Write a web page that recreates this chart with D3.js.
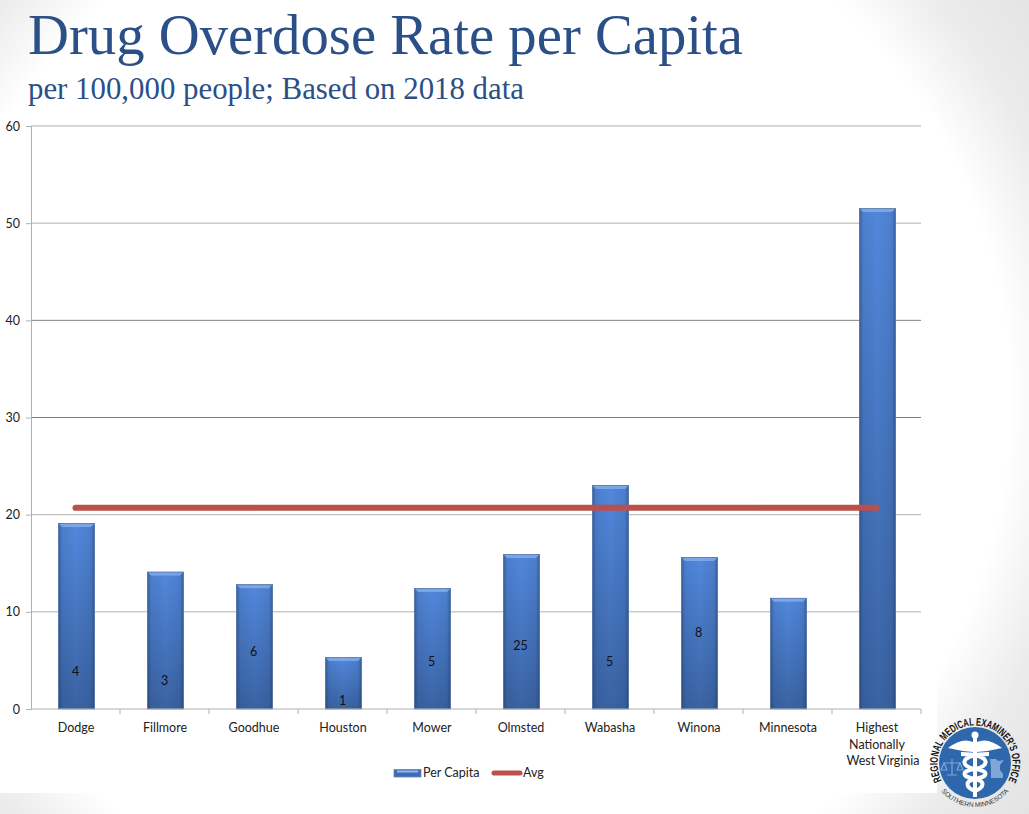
<!DOCTYPE html>
<html>
<head>
<meta charset="utf-8">
<script src="https://cdn.jsdelivr.net/npm/d3@7"></script>
<style>
  html, body { margin: 0; padding: 0; background: #fff; }
  svg { display: block; }
</style>
</head>
<body>
<div id="chart"></div>
<script>
const counties = ["Dodge", "Fillmore", "Goodhue", "Houston", "Mower", "Olmsted", "Wabasha", "Winona", "Minnesota", "Highest Nationally West Virginia"];
const perCapita = [19.1, 14.1, 12.8, 5.3, 12.4, 15.9, 23, 15.6, 11.4, 51.5];
const avg = [20.7, 20.7, 20.7, 20.7, 20.7, 20.7, 20.7, 20.7, 20.7, 20.7];
// overdose counts, printed at the height of their own value (Olmsted was moved by hand)
const counts = ["4", "3", "6", "1", "5", "25", "5", "8"];
const countHeights = [4, 3, 6, 1, 5, 6.6, 5, 8];
const yTicks = [0, 10, 20, 30, 40, 50, 60];

const width = 1029, height = 814;
const sans = "Lato, 'Open Sans', sans-serif";
const serif = "'Liberation Serif', serif";

const svg = d3.select("#chart").append("svg")
  .attr("width", width)
  .attr("height", height)
  .attr("viewBox", `0 0 ${width} ${height}`);

const defs = svg.append("defs");

const barFill = defs.append("linearGradient")
  .attr("id", "barFill")
  .attr("x1", 0).attr("y1", 0).attr("x2", 0).attr("y2", 1);
barFill.append("stop").attr("offset", "0%").attr("stop-color", "#5288dc");
barFill.append("stop").attr("offset", "100%").attr("stop-color", "#3a63a3");

const barEdge = defs.append("linearGradient")
  .attr("id", "barEdge")
  .attr("x1", 0).attr("y1", 0).attr("x2", 1).attr("y2", 0);
[[0, 0.42], [0.1, 0.1], [0.5, 0], [0.9, 0.1], [1, 0.42]].forEach(([o, a]) => {
  barEdge.append("stop").attr("offset", o).attr("stop-color", "#16294d").attr("stop-opacity", a);
});

const pageFill = defs.append("radialGradient")
  .attr("id", "pageFill")
  .attr("gradientUnits", "userSpaceOnUse")
  .attr("cx", 470).attr("cy", 400).attr("r", 700);
pageFill.append("stop").attr("offset", "77%").attr("stop-color", "#ffffff");
pageFill.append("stop").attr("offset", "88%").attr("stop-color", "#ebebeb");
pageFill.append("stop").attr("offset", "100%").attr("stop-color", "#e3e3e3");

// slide background and the white panel behind the chart
svg.append("rect").attr("width", width).attr("height", height).attr("fill", "url(#pageFill)");
svg.append("rect").attr("x", 0).attr("y", 112).attr("width", 937).attr("height", 681).attr("fill", "#fff");

svg.append("text")
  .attr("x", 28).attr("y", 54)
  .attr("font-family", serif).attr("font-size", 58)
  .attr("textLength", 715).attr("lengthAdjust", "spacingAndGlyphs")
  .attr("fill", "#2b4f87")
  .text("Drug Overdose Rate per Capita");

svg.append("text")
  .attr("x", 28).attr("y", 99)
  .attr("font-family", serif).attr("font-size", 31)
  .attr("textLength", 496).attr("lengthAdjust", "spacingAndGlyphs")
  .attr("fill", "#2b4f87")
  .text("per 100,000 people; Based on 2018 data");

const margin = { left: 31, right: 921, top: 126, bottom: 709 };

const x = d3.scaleBand().domain(counties).range([margin.left, margin.right]);
const y = d3.scaleLinear().domain([0, 60]).range([margin.bottom, margin.top]);
const barWidth = x.bandwidth() * 0.405;
const barLeft = (d) => x(d) + (x.bandwidth() - barWidth) / 2 + 1;

// gridlines, the 30 and 40 lines come out darker in the slide
svg.append("g").selectAll("line")
  .data(yTicks.filter((d) => d > 0))
  .enter().append("line")
  .attr("x1", margin.left).attr("x2", margin.right)
  .attr("y1", (d) => y(d)).attr("y2", (d) => y(d))
  .attr("stroke", (d) => (d === 30 || d === 40 ? "#808080" : "#b0b0b0"))
  .attr("stroke-width", 1);

// bars
const bars = svg.append("g").selectAll("g")
  .data(counties)
  .enter().append("g");
bars.append("rect")
  .attr("x", barLeft)
  .attr("y", (d, i) => y(perCapita[i]))
  .attr("width", barWidth)
  .attr("height", (d, i) => y(0) - y(perCapita[i]))
  .attr("fill", "url(#barFill)");
bars.append("rect")
  .attr("x", barLeft)
  .attr("y", (d, i) => y(perCapita[i]))
  .attr("width", barWidth)
  .attr("height", (d, i) => y(0) - y(perCapita[i]))
  .attr("fill", "url(#barEdge)")
  .attr("stroke", "#4a6c9f").attr("stroke-width", 0.7);
bars.append("path")
  .attr("d", (d, i) => {
    const left = barLeft(d), top = y(perCapita[i]) + 0.5;
    const p = d3.path();
    p.moveTo(left + 0.5, top);
    p.lineTo(left + barWidth - 0.5, top);
    p.lineTo(left + barWidth - 3.5, top + 3);
    p.lineTo(left + 3.5, top + 3);
    p.closePath();
    return p.toString();
  })
  .attr("fill", "#86aeea").attr("opacity", 0.8);

// axes
const axisLeft = d3.axisLeft(y).tickValues(yTicks).tickSize(5).tickPadding(6);
const yAxis = svg.append("g").attr("transform", `translate(${margin.left},0)`).call(axisLeft);
yAxis.select(".domain").attr("stroke", "#b0b0b0");
yAxis.selectAll(".tick line").attr("stroke", "#b0b0b0");
yAxis.selectAll("text").attr("font-family", sans).attr("font-size", 12.5).attr("fill", "#222");

svg.append("line")
  .attr("x1", margin.left).attr("x2", margin.right)
  .attr("y1", y(0)).attr("y2", y(0))
  .attr("stroke", "#b0b0b0");

// category ticks sit between the bands
svg.append("g").selectAll("line")
  .data(counties)
  .enter().append("line")
  .attr("x1", (d) => x(d) + x.step())
  .attr("x2", (d) => x(d) + x.step())
  .attr("y1", y(0)).attr("y2", y(0) + 5)
  .attr("stroke", "#b0b0b0");

const catLabels = svg.append("g").selectAll("text")
  .data(counties)
  .enter().append("text")
  .attr("font-family", sans).attr("font-size", 12.5)
  .attr("fill", "#222").attr("text-anchor", "middle");
catLabels.each(function (d) {
  const lines = d.startsWith("Highest") ? ["Highest", "Nationally", "West Virginia"] : [d];
  const cx = x(d) + x.bandwidth() / 2 + 0.5;
  d3.select(this).selectAll("tspan")
    .data(lines)
    .enter().append("tspan")
    .attr("x", (l) => cx + (l === "West Virginia" ? 6 : 0))
    .attr("y", (l, i) => 732 + i * 16.5)
    .text((l) => l);
});

// average line, centre of first band to centre of last
const avgLine = d3.line()
  .x((d, i) => x(counties[i]) + x.bandwidth() / 2)
  .y((d) => y(d));
svg.append("path")
  .datum(avg)
  .attr("d", avgLine)
  .attr("fill", "none")
  .attr("stroke", "#b9504c")
  .attr("stroke-width", 6)
  .attr("stroke-linecap", "round");

// counts inside the bars
svg.append("g").selectAll("text")
  .data(counts)
  .enter().append("text")
  .attr("x", (d, i) => x(counties[i]) + x.bandwidth() / 2)
  .attr("y", (d, i) => y(countHeights[i]) + 5.5)
  .attr("text-anchor", "middle")
  .attr("font-family", sans).attr("font-size", 12.5)
  .attr("fill", "#111")
  .text((d) => d);

// legend
const legend = svg.append("g");
legend.append("rect").attr("x", 394).attr("y", 769.5).attr("width", 27).attr("height", 7.5)
  .attr("fill", "#3f6bb0").attr("stroke", "#6d86ad").attr("stroke-width", 0.8);
legend.append("rect").attr("x", 397).attr("y", 770.5).attr("width", 21).attr("height", 2)
  .attr("fill", "#8db9f0");
legend.append("text").attr("x", 423).attr("y", 777)
  .attr("font-family", sans).attr("font-size", 12.5).attr("fill", "#222").text("Per Capita");
legend.append("line").attr("x1", 494).attr("x2", 520).attr("y1", 773).attr("y2", 773)
  .attr("stroke", "#b9504c").attr("stroke-width", 5).attr("stroke-linecap", "round");
legend.append("text").attr("x", 523).attr("y", 777)
  .attr("font-family", sans).attr("font-size", 12.5).attr("fill", "#222").text("Avg");

// seal, bottom right
const seal = svg.append("g").attr("transform", "translate(975,763)");
const ringPath = (r, a0, a1, sweep) => {
  const pt = (a) => `${r * Math.sin(a)} ${-r * Math.cos(a)}`;
  return `M ${pt(a0)} A ${r} ${r} 0 ${Math.abs(a1 - a0) > Math.PI ? 1 : 0} ${sweep} ${pt(a1)}`;
};
const deg = Math.PI / 180;
defs.append("path").attr("id", "sealTop").attr("d", ringPath(37.5, -118 * deg, 118 * deg, 1));
defs.append("path").attr("id", "sealBottom").attr("d", ringPath(44, -118 * deg, -242 * deg, 0));
seal.append("circle").attr("r", 36).attr("fill", "#2f67ad");
seal.append("text")
  .attr("font-family", "'Liberation Sans', sans-serif").attr("font-weight", 700)
  .attr("font-size", 11).attr("fill", "#111")
  .append("textPath").attr("href", "#sealTop")
  .attr("textLength", 154).attr("lengthAdjust", "spacingAndGlyphs")
  .text("REGIONAL MEDICAL EXAMINER'S OFFICE");
seal.append("text")
  .attr("font-family", "'Liberation Sans', sans-serif")
  .attr("font-size", 6.5).attr("fill", "#333")
  .append("textPath").attr("href", "#sealBottom").attr("startOffset", "50%").attr("text-anchor", "middle")
  .text("SOUTHERN MINNESOTA");
// wings
seal.append("path").attr("d", "M-27 -15 Q-13 -26 -2 -21 L-2 -11 Q-15 -12 -27 -15 Z M27 -15 Q13 -26 2 -21 L2 -11 Q15 -12 27 -15 Z").attr("fill", "#fff");
// staff and snakes
seal.append("line").attr("x1", 0).attr("x2", 0).attr("y1", -28).attr("y2", 34).attr("stroke", "#fff").attr("stroke-width", 4);
seal.append("circle").attr("cy", -28).attr("r", 3.5).attr("fill", "#fff");
seal.append("path").attr("d", "M14 -9 C-17 -9 -15 4 0 6 C15 8 13 14 0 16 C-10 18 -10 24 0 28 M-14 -9 C17 -9 15 4 0 6 C-15 8 -13 14 0 16 C10 18 10 24 0 28")
  .attr("fill", "none").attr("stroke", "#fff").attr("stroke-width", 4);
// scales on the left, state outline on the right
const emblem = "#7ea6d6";
seal.append("path").attr("d", "M-31 0 L-15 0 M-23 -4 L-23 12 M-28 12 L-18 12 M-31 0 L-34 7 L-28 7 Z M-15 0 L-18 7 L-12 7 Z")
  .attr("fill", "none").attr("stroke", emblem).attr("stroke-width", 1.2);
seal.append("path").attr("d", "M15 -4 L21 -4 L23 -2 L29 -3 L25 2 L25 7 L28 11 L28 15 L16 15 L16 5 Z").attr("fill", emblem);
</script>
</body>
</html>
